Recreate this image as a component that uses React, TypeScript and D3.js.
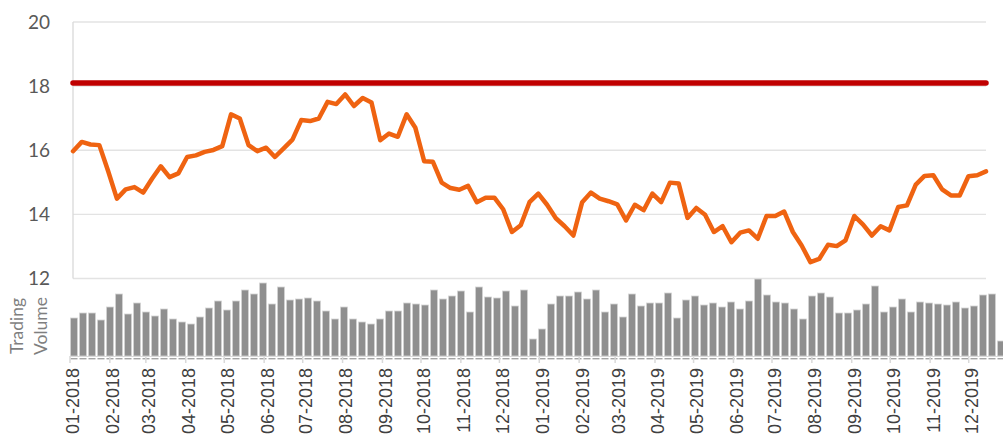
import React, { useEffect, useRef } from 'react';
import * as d3 from 'd3';

// weekly closing price
const prices = [
  15.97, 16.26, 16.18, 16.16, 15.35, 14.49, 14.78, 14.85, 14.68, 15.11,
  15.5, 15.16, 15.28, 15.79, 15.84, 15.95, 16.01, 16.13, 17.12, 16.99,
  16.16, 15.97, 16.08, 15.79, 16.06, 16.33, 16.94, 16.91, 16.99, 17.51,
  17.44, 17.74, 17.38, 17.63, 17.49, 16.31, 16.52, 16.42, 17.12, 16.7,
  15.66, 15.64, 14.99, 14.82, 14.77, 14.89, 14.38, 14.52, 14.52, 14.16,
  13.45, 13.66, 14.38, 14.65, 14.3, 13.88, 13.63, 13.34, 14.38, 14.68,
  14.49, 14.41, 14.31, 13.81, 14.3, 14.13, 14.65, 14.38, 14.99, 14.96,
  13.89, 14.2, 13.99, 13.45, 13.63, 13.13, 13.43, 13.5, 13.24, 13.95,
  13.95, 14.09, 13.45, 13.03, 12.51, 12.61, 13.05, 13.01, 13.19, 13.95,
  13.68, 13.34, 13.63, 13.5, 14.23, 14.28, 14.93, 15.2, 15.22, 14.78,
  14.59, 14.59, 15.19, 15.22, 15.34,
];

// weekly trading volume (relative units)
const volumes = [
  38, 43, 43, 36, 49, 62, 42, 53, 44, 40, 47, 37, 34, 32, 39, 48, 55, 46, 55, 66,
  62, 73, 52, 69, 56, 57, 58, 55, 45, 37, 49, 37, 34, 32, 37, 45, 45, 53, 52, 51,
  66, 57, 60, 65, 44, 69, 59, 58, 65, 50, 66, 17, 27, 52, 60, 60, 64, 57, 66, 44,
  52, 39, 62, 50, 53, 53, 63, 38, 56, 60, 51, 53, 49, 54, 47, 55, 77, 61, 54, 53,
  47, 37, 60, 63, 59, 43, 43, 46, 52, 70, 44, 49, 57, 44, 54, 53, 52, 51, 54, 48,
  50, 61, 62, 15,
];

const targetPrice = 18.1;
const priceTicks = [12, 14, 16, 18, 20];
const monthLabels = [
  '01-2018', '02-2018', '03-2018', '04-2018', '05-2018', '06-2018',
  '07-2018', '08-2018', '09-2018', '10-2018', '11-2018', '12-2018',
  '01-2019', '02-2019', '03-2019', '04-2019', '05-2019', '06-2019',
  '07-2019', '08-2019', '09-2019', '10-2019', '11-2019', '12-2019',
];

const width = 1003;
const height = 441;

const App = () => {
  const svgRef = useRef<SVGSVGElement>(null);

  useEffect(() => {
    const svg = d3.select(svgRef.current);
    svg.selectAll('*').remove();

    const parseMonth = d3.utcParse('%m-%Y');
    const start = parseMonth(monthLabels[0]) as Date;
    const weeks = volumes.map((_, i) => d3.utcDay.offset(start, 7 * i));
    const end = d3.utcDay.offset(weeks[weeks.length - 1], 7);

    // price panel
    const plot = { left: 73, right: 986, top: 22, bottom: 278.5 };
    const yPrice = d3.scaleLinear().domain([12, 20]).range([plot.bottom, plot.top]);
    const xLine = d3.scalePoint<number>()
      .domain(d3.range(prices.length))
      .range([plot.left, plot.right]);

    // volume panel
    const xTime = d3.scaleUtc().domain([start, end]).range([70, 1006]);
    const volBase = 356;
    const yVol = d3.scaleLinear().domain([0, 78]).range([volBase, 278]);

    // gridlines
    svg.append('g')
      .selectAll('line')
      .data(priceTicks)
      .enter().append('line')
      .attr('x1', plot.left)
      .attr('x2', plot.right)
      .attr('y1', d => yPrice(d))
      .attr('y2', d => yPrice(d))
      .attr('stroke', '#e3e3e3')
      .attr('stroke-width', 1.3);

    svg.append('line')
      .attr('x1', plot.left)
      .attr('x2', plot.left)
      .attr('y1', plot.top)
      .attr('y2', plot.bottom)
      .attr('stroke', '#d9d9d9')
      .attr('stroke-width', 1.3);

    // y tick labels
    svg.append('g')
      .selectAll('text')
      .data(priceTicks)
      .enter().append('text')
      .attr('x', 50)
      .attr('y', d => yPrice(d))
      .attr('dy', '0.36em')
      .attr('text-anchor', 'end')
      .attr('font-family', 'Lato, sans-serif')
      .attr('font-size', 19)
      .attr('fill', '#595959')
      .text(d => d);

    // target line
    svg.append('line')
      .attr('x1', plot.left)
      .attr('x2', plot.right)
      .attr('y1', yPrice(targetPrice))
      .attr('y2', yPrice(targetPrice))
      .attr('stroke', '#c00000')
      .attr('stroke-width', 5.5)
      .attr('stroke-linecap', 'round');

    // price line
    const line = d3.line<number>()
      .x((_, i) => xLine(i) as number)
      .y(d => yPrice(d));

    svg.append('path')
      .datum(prices)
      .attr('fill', 'none')
      .attr('stroke', '#ef6311')
      .attr('stroke-width', 4.5)
      .attr('stroke-linejoin', 'round')
      .attr('stroke-linecap', 'round')
      .attr('d', line);

    // volume bars
    const barW = (d: Date) => xTime(d3.utcDay.offset(d, 7)) - xTime(d) - 2;
    svg.append('g')
      .selectAll('rect')
      .data(volumes)
      .enter().append('rect')
      .attr('x', (_, i) => xTime(weeks[i]) + 0.5)
      .attr('y', d => yVol(d))
      .attr('width', (_, i) => barW(weeks[i]))
      .attr('height', d => volBase - yVol(d))
      .attr('fill', '#8f8f8f')
      .attr('stroke', '#d4d4d4')
      .attr('stroke-width', 0.8);

    // volume axis
    svg.append('line')
      .attr('x1', xTime(start))
      .attr('x2', xTime(end))
      .attr('y1', volBase + 0.5)
      .attr('y2', volBase + 0.5)
      .attr('stroke', '#d9d9d9')
      .attr('stroke-width', 1.2);

    svg.append('g')
      .selectAll('rect')
      .data(weeks)
      .enter().append('rect')
      .attr('x', d => xTime(d) + 0.5)
      .attr('y', volBase + 2)
      .attr('width', d => barW(d))
      .attr('height', 1.4)
      .attr('fill', '#a6a6a6');

    const months = monthLabels.map(m => parseMonth(m) as Date);
    svg.append('g')
      .selectAll('line')
      .data(months)
      .enter().append('line')
      .attr('x1', d => xTime(d))
      .attr('x2', d => xTime(d))
      .attr('y1', volBase)
      .attr('y2', volBase + 7)
      .attr('stroke', '#d9d9d9')
      .attr('stroke-width', 1.5);

    svg.append('g')
      .selectAll('text')
      .data(months)
      .enter().append('text')
      .attr('transform', d => `translate(${xTime(d)},368) rotate(-90)`)
      .attr('dy', '0.52em')
      .attr('text-anchor', 'end')
      .attr('font-family', '"Liberation Sans", Arial, sans-serif')
      .attr('font-size', 18)
      .attr('fill', '#404040')
      .text((_, i) => monthLabels[i]);

    // volume title
    const title = svg.append('text')
      .attr('transform', `translate(0,326) rotate(-90)`)
      .attr('text-anchor', 'middle')
      .attr('font-family', 'Lato, sans-serif')
      .attr('font-size', 17.5)
      .attr('fill', '#7f7f7f');
    title.append('tspan').attr('x', 0).attr('y', 23).text('Trading');
    title.append('tspan').attr('x', 0).attr('y', 47).text('Volume');
  }, []);

  return (
    <svg
      ref={svgRef}
      width={width}
      height={height}
      style={{ position: 'absolute', left: 0, top: 0, background: '#fff' }}
    />
  );
};

export default App;
